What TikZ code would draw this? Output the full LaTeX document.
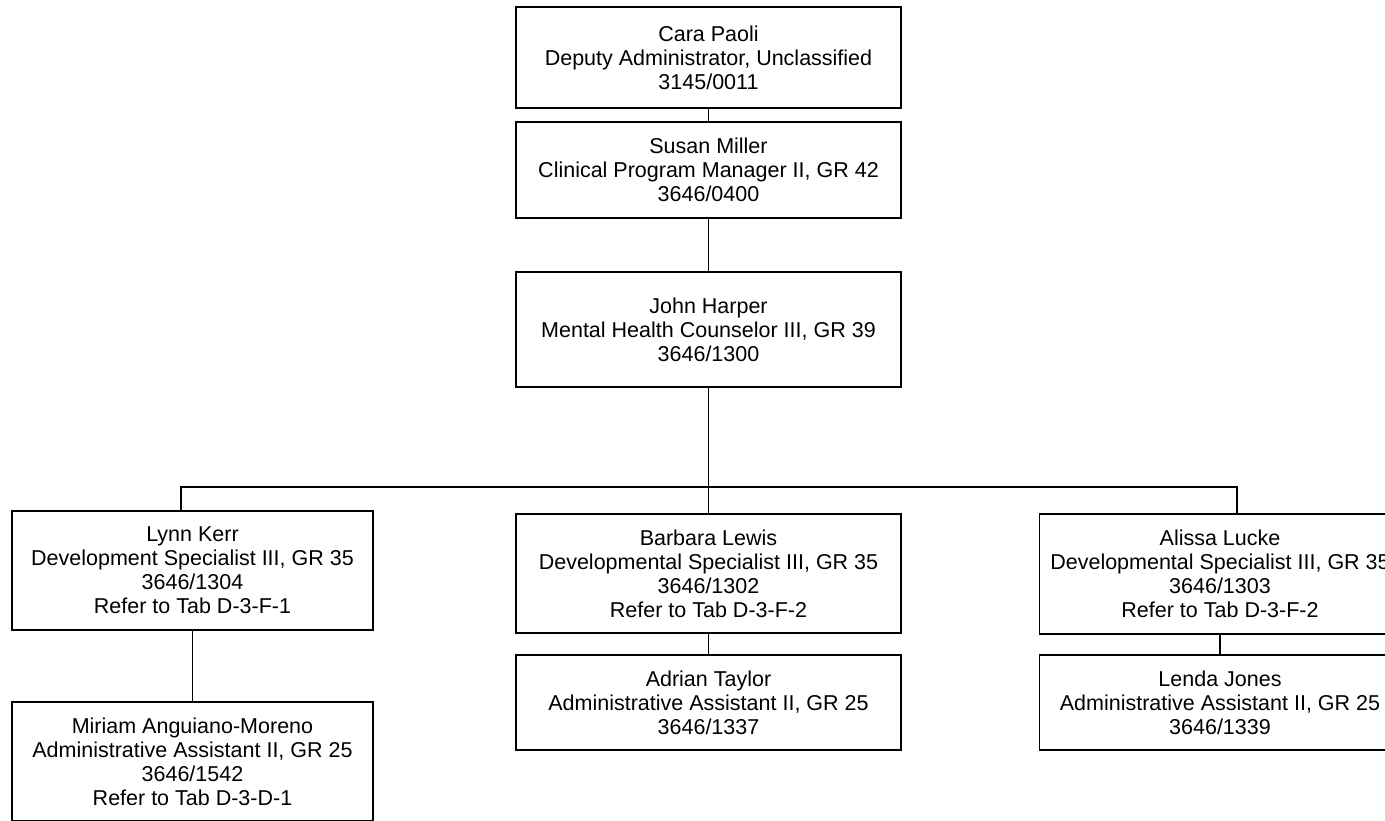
\documentclass[tikz,border=0pt]{standalone}
\usepackage{fontspec}
\setmainfont{Liberation Sans}
\usetikzlibrary{positioning}

\begin{document}
\begin{tikzpicture}[x=1pt,y=-1pt,
    person/.style={draw,line width=1.8pt,align=center,inner sep=0pt,
      font=\fontsize{21.5}{24}\selectfont},
    wide/.style={person,minimum width=385pt},
    narrow/.style={person,minimum width=361pt},
    link/.style={line width=1.8pt}]
    \useasboundingbox (0,0) rectangle (1385,821);
    % top of the chart
    \node[wide,minimum height=101pt](cara) at (708.5,57.5){Cara Paoli\\Deputy Administrator, Unclassified\\3145/0011};
    \node[wide,minimum height=96pt](susan) at (708.5,170){Susan Miller\\Clinical Program Manager II, GR 42\\3646/0400};
    \node[wide,minimum height=115pt](john) at (708.5,329.5){John Harper\\Mental Health Counselor III, GR 39\\3646/1300};
    % second row
    \node[narrow,minimum height=119pt](lynn) at (192.5,570.5){Lynn Kerr\\Development Specialist III, GR 35\\3646/1304\\Refer to Tab D-3-F-1};
    \node[wide,minimum height=119pt](barbara) at (708.5,573.5){Barbara Lewis\\Developmental Specialist III, GR 35\\3646/1302\\Refer to Tab D-3-F-2};
    \node[narrow,minimum height=120pt](alissa) at (1220,574){Alissa Lucke\\Developmental Specialist III, GR 35\\3646/1303\\Refer to Tab D-3-F-2};
    % assistants
    \node[narrow,minimum height=119pt](miriam) at (192.5,761.5){Miriam Anguiano-Moreno\\Administrative Assistant II, GR 25\\3646/1542\\Refer to Tab D-3-D-1};
    \node[wide,minimum height=95pt](adrian) at (708.5,702.5){Adrian Taylor\\Administrative Assistant II, GR 25\\3646/1337};
    \node[narrow,minimum height=95pt](lenda) at (1220,702.5){Lenda Jones\\Administrative Assistant II, GR 25\\3646/1339};
    \coordinate (busL) at (181,487);
    \coordinate (busR) at (1237,487);
    \draw[link](cara)--(susan);
    \draw[link](susan)--(john);
    \draw[link](john.south)--(john.south |- busL);
    \draw[link](busL |- lynn.north)--(busL)--(busR)--(busR |- alissa.north);
    \draw[link](john.south |- busL)--(barbara.north);
    \draw[link](lynn)--(miriam);
    \draw[link](barbara)--(adrian);
    \draw[link](alissa)--(lenda);
\end{tikzpicture}
\end{document}
